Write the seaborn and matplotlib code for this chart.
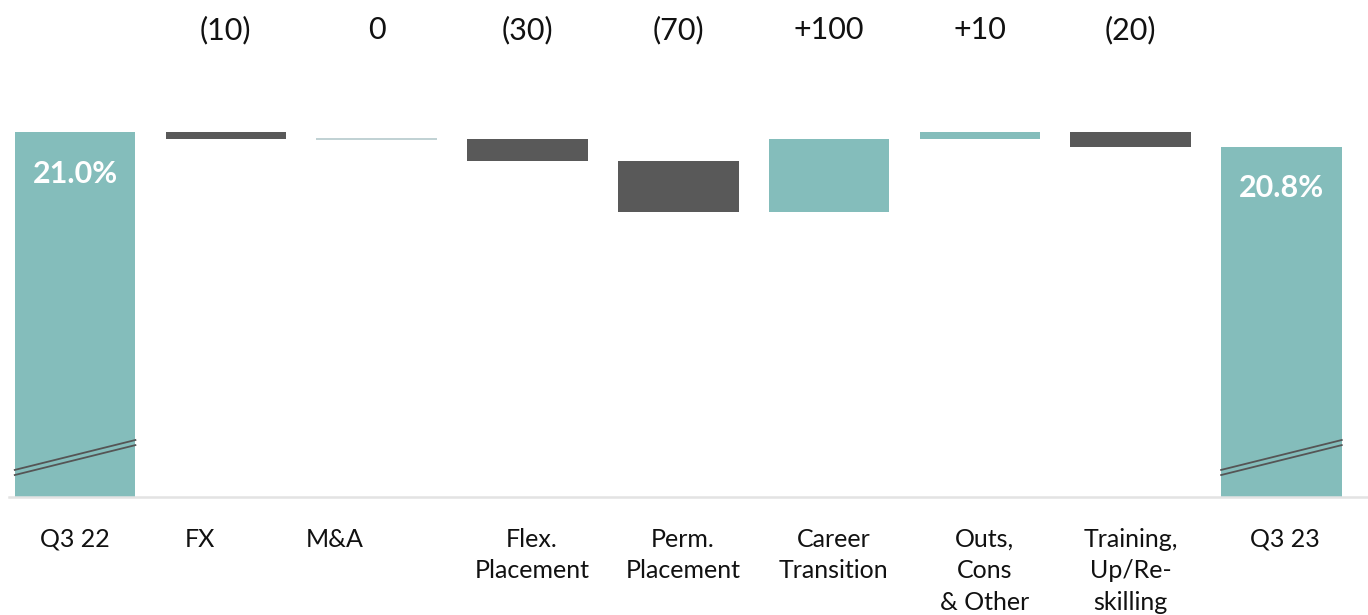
import numpy as np
import pandas as pd
import matplotlib.pyplot as plt
import matplotlib.transforms as mtransforms
import seaborn as sns

categorias = ['Q3 22', 'FX', 'M&A', 'Flex.\nPlacement', 'Perm.\nPlacement', 'Career\nTransition',
              'Outs,\nCons\n& Other', 'Training,\nUp/Re-\nskilling', 'Q3 23']
inicio = 21.0  # margem Q3 22 (%)
variacoes_bp = [-10, 0, -30, -70, 100, 10, -20]  # variações em pontos-base
rotulos_topo = ['(10)', '0', '(30)', '(70)', '+100', '+10', '(20)']
rotulos_total = ['21.0%', '20.8%']
desloc_rotulo = [0, -0.17, -0.28, 0.03, 0.03, 0.03, 0.03, 0, 0.02]  # ajuste horizontal dos nomes

base_eixo = 16.0  # eixo quebrado

teal = '#84BDBB'
cinza = '#595959'
linha_zero = '#B5C9CC'

# montando o waterfall
niveis = inicio + np.cumsum(variacoes_bp) / 100
fim = round(niveis[-1], 1)
anteriores = np.concatenate([[inicio], niveis[:-1]])

alturas = [inicio - base_eixo]
bases = [base_eixo]
cores = [teal]
for v, ant, niv in zip(variacoes_bp, anteriores, niveis):
    alturas.append(abs(niv - ant))
    bases.append(min(ant, niv))
    cores.append(teal if v > 0 else (cinza if v < 0 else linha_zero))
alturas.append(fim - base_eixo)
bases.append(base_eixo)
cores.append(teal)

df = pd.DataFrame({'categoria': categorias, 'altura': alturas, 'base': bases})

plt.rcParams['font.family'] = ['Lato', 'DejaVu Sans']
fig = plt.figure(figsize=(13.68, 6.15), dpi=100)
ax = fig.add_axes([0.0066, 0.192, 0.9934, 0.808])

sns.barplot(data=df, x='categoria', y='altura', bottom=df['base'], width=0.8,
            saturation=1, color=teal, ax=ax)
for p, c in zip(ax.patches, cores):
    p.set_facecolor(c)
    p.set_edgecolor('none')
    if c == linha_zero:
        p.set_edgecolor(linha_zero)
        p.set_linewidth(1.2)

ax.set_xlim(-0.438, 8.574)
ax.set_ylim(base_eixo, 22.81)

# rótulos de variação no topo
for i, txt in enumerate(rotulos_topo, start=1):
    ax.text(i, 22.4, txt, ha='center', va='center', fontsize=22, color='#111111')

# rótulos dos totais
for i, (txt, val) in zip([0, len(categorias) - 1], zip(rotulos_total, [inicio, fim])):
    ax.annotate(txt, (i, val), xytext=(0, -30), textcoords='offset points',
                ha='center', va='center', fontsize=22, fontweight='bold', color='white')

# linhas de quebra do eixo
for i in [0, len(categorias) - 1]:
    for d in [0, -0.07]:
        ax.plot([i - 0.4, i + 0.4], [16.37 + d, 16.78 + d], color='#555555', lw=1.3)

# nomes das categorias
trans = mtransforms.blended_transform_factory(ax.transData, ax.transAxes)
for i, (nome, dx) in enumerate(zip(categorias, desloc_rotulo)):
    ax.text(i + dx, -0.062, nome, transform=trans, ha='center', va='top',
            fontsize=18, color='#111111', linespacing=1.45)

ax.set_xticks([])
ax.set_yticks([])
ax.set_xlabel('')
ax.set_ylabel('')
for s in ['top', 'right', 'left']:
    ax.spines[s].set_visible(False)
ax.spines['bottom'].set_color('#E3E3E3')
ax.spines['bottom'].set_linewidth(1.8)

fig.savefig('out.png', dpi=100)
